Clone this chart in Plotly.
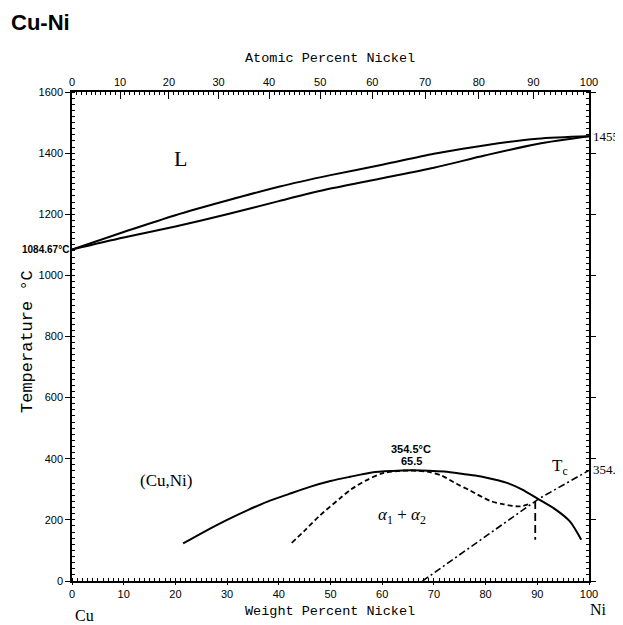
import plotly.graph_objects as go

# ---------------- data (weight percent Ni, temperature °C) ----------------
liq_wt = [0, 10, 20, 30, 40, 50, 60, 70, 80, 90, 100]
liq_T = [1084.87, 1142, 1197, 1245, 1290, 1328, 1362, 1398, 1426, 1447, 1455]
sol_wt = [0, 10, 20, 30, 40, 50, 60, 70, 80, 90, 100]
sol_T = [1084.87, 1124, 1160, 1200, 1243, 1284, 1318, 1352, 1393, 1430, 1455]

gap_wt = [21.5, 26, 30, 34, 37.7, 42, 46, 50, 53.8, 58, 62, 65.5, 69, 72, 75, 78, 80.2, 84, 87, 90.2, 93.7, 96.3, 98.5]
gap_T = [123, 165, 200, 232, 259, 285, 308, 327, 341, 355, 360, 362, 361, 358, 352, 345, 338, 322, 300, 268, 232, 195, 135]

spin_wt = [42.5, 45, 48, 51.8, 54, 57, 60, 63, 66, 69, 71.5, 74.4, 77, 80.9, 83.5, 86.7, 88.8]
spin_T = [125, 165, 215, 270, 300, 330, 352, 360, 361, 357, 345, 318, 296, 262, 251, 244, 254]

vert_wt = [89.6, 89.6]
vert_T = [262, 135]

tc_wt = [67.8, 90.2, 100]
tc_T = [0, 268, 362]

top_major = [0, 10, 20, 30, 40, 50, 60, 70, 80, 90, 100]  # atomic percent Ni
M_NI, M_CU = 58.69, 63.55


def at_to_wt(a):
    return 100 * a * M_NI / (a * M_NI + (100 - a) * M_CU)


top_major_pos = [at_to_wt(a) for a in top_major]
top_minor_pos = [at_to_wt(a) for a in range(1, 100) if a % 10 != 0]

# plot area in page pixels (the page adds an 8px body margin)
OFF = 8
L, R, T, B = 72, 589, 92, 581
W, H = 623 - OFF, 625 - OFF
pw, ph = R - L, B - T


def px(x):
    return (x - L) / pw


def py(y):
    return (B - y) / ph


sans = "Liberation Sans, Arial, sans-serif"
tick_font = dict(family=sans, size=11, color="black")
mono = "Liberation Mono, Courier New, monospace"
serif = "Liberation Serif, Times New Roman, serif"

fig = go.Figure()
line_solid = dict(color="black", width=2, shape="spline", smoothing=0.8)
fig.add_trace(go.Scatter(x=liq_wt, y=liq_T, mode="lines", line=line_solid, hoverinfo="skip"))
fig.add_trace(go.Scatter(x=sol_wt, y=sol_T, mode="lines", line=line_solid, hoverinfo="skip"))
fig.add_trace(go.Scatter(x=gap_wt, y=gap_T, mode="lines", line=line_solid, hoverinfo="skip"))
fig.add_trace(go.Scatter(x=spin_wt, y=spin_T, mode="lines",
                         line=dict(color="black", width=1.8, dash="5px,3px", shape="spline", smoothing=0.8),
                         hoverinfo="skip"))
fig.add_trace(go.Scatter(x=vert_wt, y=vert_T, mode="lines",
                         line=dict(color="black", width=1.8, dash="8px,4px"), hoverinfo="skip"))
fig.add_trace(go.Scatter(x=tc_wt, y=tc_T, mode="lines",
                         line=dict(color="black", width=1.6, dash="7px,3px,2px,3px"), hoverinfo="skip"))
# invisible trace for the top axis
fig.add_trace(go.Scatter(x=[0, 100], y=[0, 0], xaxis="x2", mode="lines",
                         line=dict(width=0), showlegend=False, hoverinfo="skip"))

fig.update_layout(
    width=W, height=H,
    margin=dict(l=L - OFF, r=W - (R - OFF), t=T - OFF, b=H - (B - OFF)),
    plot_bgcolor="white", paper_bgcolor="white",
    showlegend=False,
    xaxis=dict(range=[0, 100], tickmode="array", tickvals=list(range(0, 101, 10)),
               showgrid=False, zeroline=False, showline=True, linecolor="black", linewidth=1.5,
               ticks="outside", ticklen=2, tickwidth=1.2, tickcolor="black", tickfont=tick_font,
               minor=dict(dtick=1, ticks="inside", ticklen=3, tickcolor="black", tickwidth=1, showgrid=False)),
    xaxis2=dict(range=[0, 100], overlaying="x", side="top", tickmode="array",
                tickvals=top_major_pos, ticktext=[str(a) for a in top_major],
                showgrid=False, zeroline=False, showline=True, linecolor="black", linewidth=1.5,
                ticks="inside", ticklen=7, tickwidth=1.2, tickcolor="black", tickfont=tick_font,
                minor=dict(tickvals=top_minor_pos, ticks="inside", ticklen=3, tickcolor="black", tickwidth=1,
                           showgrid=False)),
    yaxis=dict(range=[0, 1600], tickmode="array", tickvals=list(range(0, 1601, 200)),
               showgrid=False, zeroline=False, showline=True, linecolor="black", linewidth=1.5,
               mirror="ticks", ticks="outside", ticklen=5, tickwidth=1.2, tickcolor="black",
               tickfont=tick_font,
               minor=dict(dtick=20, ticks="inside", ticklen=3, tickcolor="black", tickwidth=1, showgrid=False)),
)

ann = []
# title
ann.append(dict(text="<b>Cu-Ni</b>", xref="paper", yref="paper", x=px(9), y=py(22), xanchor="left",
                yanchor="middle", showarrow=False, font=dict(family=sans, size=22, color="black")))
# axis titles
ann.append(dict(text="Atomic Percent Nickel", xref="paper", yref="paper", x=px(330), y=py(58),
                xanchor="center", yanchor="middle", showarrow=False, font=dict(family=mono, size=13.5, color="black")))
ann.append(dict(text="Weight Percent Nickel", xref="paper", yref="paper", x=px(330), y=py(611),
                xanchor="center", yanchor="middle", showarrow=False, font=dict(family=mono, size=13.5, color="black")))
ann.append(dict(text="Temperature °C", xref="paper", yref="paper", x=px(27), y=py(342), textangle=-90,
                xanchor="center", yanchor="middle", showarrow=False, font=dict(family=mono, size=17, color="black")))
ann.append(dict(text="Cu", xref="paper", yref="paper", x=px(84), y=py(615), xanchor="center",
                yanchor="middle", showarrow=False, font=dict(family=serif, size=16, color="black")))
ann.append(dict(text="Ni", xref="paper", yref="paper", x=px(598), y=py(609), xanchor="center",
                yanchor="middle", showarrow=False, font=dict(family=serif, size=16, color="black")))
# value labels
ann.append(dict(text="<b>1084.67°C</b>", xref="paper", yref="y", x=px(71), y=1086, xanchor="right",
                yanchor="middle", showarrow=False, font=dict(family=sans, size=10, color="black")))
ann.append(dict(text="1455°C", xref="paper", yref="y", x=px(591), y=1455, xanchor="left",
                yanchor="middle", showarrow=False, font=dict(family=serif, size=13, color="black")))
ann.append(dict(text="354.4°C", xref="paper", yref="y", x=px(591), y=365, xanchor="left",
                yanchor="middle", showarrow=False, font=dict(family=serif, size=13, color="black")))
ann.append(dict(text="<b>354.5°C</b>", x=65.6, y=432, xanchor="center", yanchor="middle", showarrow=False,
                font=dict(family=sans, size=11, color="black")))
ann.append(dict(text="<b>65.5</b>", x=65.6, y=394, xanchor="center", yanchor="middle", showarrow=False,
                font=dict(family=sans, size=11, color="black")))
# phase labels
ann.append(dict(text="L", x=20.9, y=1384, xanchor="center", yanchor="middle", showarrow=False,
                font=dict(family=serif, size=22, color="black")))
ann.append(dict(text="(Cu,Ni)", x=18.2, y=330, xanchor="center", yanchor="middle", showarrow=False,
                font=dict(family=serif, size=17, color="black")))
ann.append(dict(text="<i>α</i><sub>1</sub> + <i>α</i><sub>2</sub>", x=63.8, y=212, xanchor="center",
                yanchor="middle", showarrow=False, font=dict(family=serif, size=17, color="black")))
ann.append(dict(text="T<sub>c</sub>", x=94.4, y=372, xanchor="center", yanchor="middle", showarrow=False,
                font=dict(family=serif, size=17, color="black")))
fig.update_layout(annotations=ann)

fig.write_html("out.html")
